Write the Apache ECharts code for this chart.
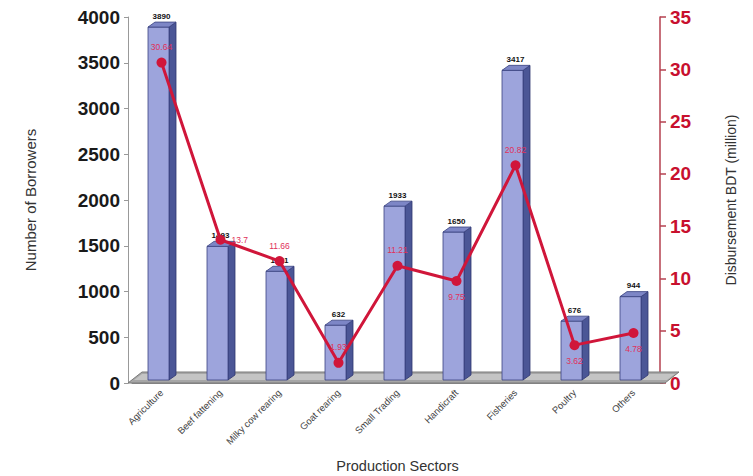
<!DOCTYPE html>
<html><head><meta charset="utf-8">
<script src="https://cdn.jsdelivr.net/npm/echarts@6/dist/echarts.min.js"></script>
<style>html,body{margin:0;padding:0;background:#fff}#c{width:753px;height:476px}</style>
</head><body><div id="c"></div>
<script>
const categories = ['Agriculture','Beef fattening','Milky cow rearing','Goat rearing','Small Trading','Handicraft','Fisheries','Poultry','Others'];
const borrowers = [3890, 1493, 1221, 632, 1933, 1650, 3417, 676, 944];
const disbursement = [30.64, 13.7, 11.66, 1.93, 11.21, 9.75, 20.82, 3.62, 4.78];
const disbLabelPos = ['top','right','top','top','top','bottom','top','bottom','bottom'];
const leftTicks = {min:0, max:4000, interval:500};
const rightTicks = {min:0, max:35, interval:5};

const sans = '"Liberation Sans",Arial,sans-serif';
const chart = echarts.init(document.getElementById('c'), null, {renderer:'svg'});

function barItem(params, api){
  const cat = api.value(0), v = api.value(1);
  const top = api.coord([cat, v]);
  const base = api.coord([cat, 0]);
  const w = 21, d = 7, dy = 5;
  const fx = top[0] - w/2 - 3;
  const ty = top[1], by = base[1] - 3;
  return {type:'group', children:[
    {type:'polygon', shape:{points:[[fx+w,ty],[fx+w+d,ty-dy],[fx+w+d,by-dy],[fx+w,by]]},
      style:{fill:'#4b5696', stroke:'#2e3670', lineWidth:0.8}},
    {type:'rect', shape:{x:fx, y:ty, width:w, height:by-ty},
      style:{fill:'#9da4dc', stroke:'#3a4380', lineWidth:0.8}},
    {type:'polygon', shape:{points:[[fx,ty],[fx+d,ty-dy],[fx+w+d,ty-dy],[fx+w,ty]]},
      style:{fill:'#7d86c6', stroke:'#3a4380', lineWidth:0.8}},
    {type:'text', style:{text:String(borrowers[params.dataIndex]), x:fx+w/2+3, y:ty-dy-2,
      align:'center', verticalAlign:'bottom', font:'bold 8px '+sans, fill:'#111'}}
  ]};
}

function floorItem(params, api){
  const cs = params.coordSys;
  const x0 = cs.x - 4, x1 = cs.x + cs.width + 2, y0 = cs.y + cs.height;
  return {type:'group', children:[
    {type:'polygon', shape:{points:[[x0,y0],[x0+14,y0-11],[x1+14,y0-11],[x1,y0]]},
      style:{fill:'#a6a6a6', stroke:'#7a7a7a', lineWidth:1}},
    {type:'polygon', shape:{points:[[x0+6,y0-3],[x0+14,y0-9],[x1+10,y0-9],[x1+2,y0-3]]},
      style:{fill:'#c4c4c4'}}
  ]};
}

chart.setOption({
  animation:false,
  grid:{left:132, right:90, top:17, bottom:93, containLabel:false, outerBoundsMode:'none'},
  xAxis:{type:'category', data:categories, boundaryGap:true,
    name:'Production Sectors', nameLocation:'middle', nameGap:75,
    nameTextStyle:{fontFamily:sans, fontSize:14.5, color:'#333'},
    axisLine:{lineStyle:{color:'#8a8a8a'}},
    axisTick:{lineStyle:{color:'#8a8a8a'}, length:4},
    axisLabel:{rotate:45, fontFamily:sans, fontSize:9.5, color:'#444', margin:8, interval:0}},
  yAxis:[
    {type:'value', min:leftTicks.min, max:leftTicks.max, interval:leftTicks.interval, position:'left', offset:4,
      name:'Number of Borrowers', nameLocation:'middle', nameGap:90, nameRotate:90,
      nameTextStyle:{fontFamily:sans, fontSize:15, color:'#333'},
      axisLine:{show:true, lineStyle:{color:'#999'}}, axisTick:{show:true, length:4, lineStyle:{color:'#999'}},
      splitLine:{show:false},
      axisLabel:{formatter:v=>String(v), fontFamily:sans, fontWeight:'bold', fontSize:19, color:'#1a1a1a', margin:8}},
    {type:'value', min:rightTicks.min, max:rightTicks.max, interval:rightTicks.interval, position:'right', offset:-3,
      name:'Disbursement BDT (million)', nameLocation:'middle', nameGap:64, nameRotate:90,
      nameTextStyle:{fontFamily:sans, fontSize:14, color:'#333'},
      axisLine:{show:true, lineStyle:{color:'#b5404f', width:1.5}},
      axisTick:{show:true, inside:false, length:6, lineStyle:{color:'#b5404f', width:1.5}},
      splitLine:{show:false},
      axisLabel:{fontFamily:sans, fontWeight:'bold', fontSize:19, color:'#c8102e', margin:10}}
  ],
  series:[
    {type:'custom', renderItem:floorItem, data:[[0,0]], silent:true, z:1},
    {type:'custom', renderItem:barItem, data:borrowers.map((v,i)=>[i,v]), encode:{x:0,y:1}, z:2},
    {type:'line', yAxisIndex:1, z:5,
      data:disbursement.map((v,i)=>({value:v, label:{position:disbLabelPos[i]}})),
      symbol:'circle', symbolSize:10,
      itemStyle:{color:'#d0163a'}, lineStyle:{color:'#d0163a', width:3},
      label:{show:true, fontFamily:sans, fontSize:8.5, color:'#e0305a', distance:6}}
  ]
});
</script></body></html>
